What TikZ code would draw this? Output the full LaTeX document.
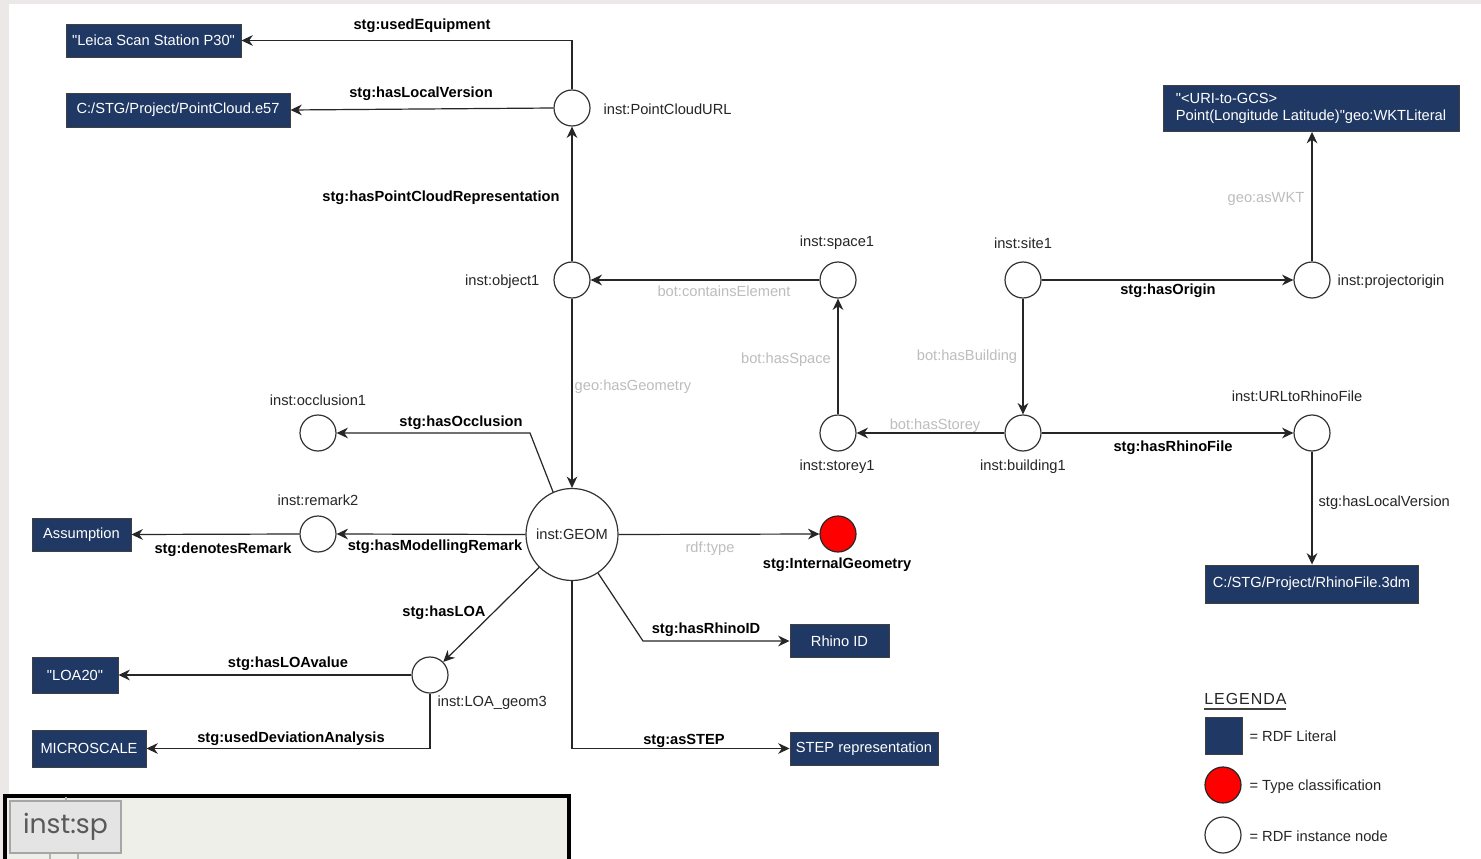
\documentclass[tikz,border=0pt]{standalone}
\usepackage{fontspec}
\setmainfont{Liberation Sans}[Ligatures=TeXOff]
\newfontfamily\geofont{Poppins}
\usetikzlibrary{arrows.meta}
\definecolor{navy}{RGB}{32,56,100}
\definecolor{lgray}{RGB}{189,189,189}
\definecolor{bggray}{RGB}{237,232,232}
\definecolor{artfill}{RGB}{239,239,234}
\definecolor{artbox}{RGB}{228,228,228}
\newcommand\fnt{\fontsize{11}{13}\selectfont}
\newcommand\dq{\symbol{34}}
\tikzset{
  inst/.style={circle, draw=black!80, fill=white, minimum size=27pt, inner sep=0pt, line width=0.9pt},
  typ/.style={circle, draw=black!85, fill=red, minimum size=27pt, inner sep=0pt, line width=0.9pt},
  lit/.style={rectangle, fill=navy, draw=black!75, text=white, font=\fnt, inner sep=0pt, line width=0.7pt},
  arr/.style={draw=black!85, line width=0.9pt, -{Stealth[length=8.5pt,width=8pt,inset=2.7pt]}},
  nl/.style={font=\fnt, text=black!85, inner sep=1pt, yshift=-1.2pt},
  bl/.style={font=\fnt\bfseries, text=black, inner sep=1pt, yshift=-1.4pt},
  gl/.style={font=\fnt, text=lgray, inner sep=1pt, yshift=-1.2pt},
}
\begin{document}
\begin{tikzpicture}[x=0.75pt, y=-0.75pt]
\useasboundingbox (0,0) rectangle (1481,859);
\fill[bggray] (0,0) rectangle (1481,859);
\fill[white] (9,4) rectangle (1481,859);

% literal boxes
\node[lit, minimum width=175*0.75pt, minimum height=33*0.75pt] (leica) at (153.5,40.5) {\dq Leica Scan Station P30\dq};
\node[lit, minimum width=224*0.75pt, minimum height=34*0.75pt] (e57) at (178,110) {C:/STG/Project/PointCloud.e57};
\node[lit, minimum width=296*0.75pt, minimum height=46*0.75pt, align=left] (wkt) at (1311,108.5) {\dq<URI-to-GCS>\\Point(Longitude Latitude)\dq geo:WKTLiteral};
\node[lit, minimum width=213*0.75pt, minimum height=38*0.75pt] (r3dm) at (1311.5,584) {C:/STG/Project/RhinoFile.3dm};
\node[lit, minimum width=99*0.75pt, minimum height=33*0.75pt] (assum) at (81.5,534.5) {Assumption};
\node[lit, minimum width=86*0.75pt, minimum height=36*0.75pt] (loa20) at (75,675) {\dq LOA20\dq};
\node[lit, minimum width=114*0.75pt, minimum height=37*0.75pt] (micro) at (89,748.5) {MICROSCALE};
\node[lit, minimum width=99*0.75pt, minimum height=33*0.75pt] (rhino) at (839.5,641) {Rhino ID};
\node[lit, minimum width=148*0.75pt, minimum height=33*0.75pt] (step) at (864,748.5) {STEP representation};

% instance nodes
\node[inst] (pcu) at (572,108) {};
\node[inst] (obj) at (572,280) {};
\node[inst] (space) at (838,280) {};
\node[inst] (site) at (1023,280) {};
\node[inst] (porig) at (1312,280) {};
\node[inst] (storey) at (838,433) {};
\node[inst] (bld) at (1023,433) {};
\node[inst] (url) at (1312,433) {};
\node[inst] (occ) at (318,433) {};
\node[inst] (rem) at (318,534) {};
\node[inst] (loa) at (430,675) {};
\node[inst, minimum size=69pt, font=\fnt, text=black!85] (geom) at (572,534.5) {inst:GEOM};
\node[typ] (ig) at (838,534) {};

% bend coordinates
\coordinate (c1) at (530,433);
\coordinate (c2) at (643,641);

% connectors
\draw[arr] (pcu.north) |- (leica.east);
\draw[arr] (pcu.west) -- (e57.east);
\draw[arr] (obj.north) -- (pcu.south);
\draw[arr] (space.west) -- (obj.east);
\draw[arr] (site.east) -- (porig.west);
\draw[arr] (porig.north) -- (wkt.south -| porig.north);
\draw[arr] (storey.north) -- (space.south);
\draw[arr] (site.south) -- (bld.north);
\draw[arr] (bld.west) -- (storey.east);
\draw[arr] (bld.east) -- (url.west);
\draw[arr] (url.south) -- (r3dm.north -| url.south);
\draw[arr] (obj.south) -- (geom.north);
\draw[arr] (geom.114) -- (c1) -- (occ.east);
\draw[arr] (geom.west) -- (rem.east);
\draw[arr] (rem.west) -- (assum.east);
\draw[arr] (geom.east) -- (ig.west);
\draw[arr] (geom.225) -- (loa);
\draw[arr] (loa.west) -- (loa20.east);
\draw[arr] (loa.south) |- (micro.east);
\draw[arr] (geom.-56) -- (c2) -- (rhino.west);
\draw[arr] (geom.south) |- (step.west);

% labels
\node[bl] (lUE) at (422,24) {stg:usedEquipment};
\node[bl] (lLV1) at (421,92) {stg:hasLocalVersion};
\node[bl] (lPCR) at (441,196) {stg:hasPointCloudRepresentation};
\node[nl, anchor=west] (tPCU) at (602,108) {inst:PointCloudURL};
\node[nl, anchor=east] (tObj) at (541,280) {inst:object1};
\node[gl] (lCE) at (724,290) {bot:containsElement};
\node[nl] (tSp) at (837,241) {inst:space1};
\node[nl] (tSite) at (1023,242) {inst:site1};
\node[bl] (lOr) at (1168,289) {stg:hasOrigin};
\node[nl, anchor=west] (tPO) at (1336,280) {inst:projectorigin};
\node[gl] (lWKT) at (1266,197) {geo:asWKT};
\node[gl] (lHS) at (786,358) {bot:hasSpace};
\node[gl] (lHB) at (967,355) {bot:hasBuilding};
\node[gl] (lHSt) at (935,424) {bot:hasStorey};
\node[nl] (tSt) at (837,465) {inst:storey1};
\node[nl] (tB) at (1023,465) {inst:building1};
\node[nl] (tURL) at (1297,395) {inst:URLtoRhinoFile};
\node[bl] (lRF) at (1173,446) {stg:hasRhinoFile};
\node[nl, anchor=west] (lLV2) at (1317,501) {stg:hasLocalVersion};
\node[gl] (lHG) at (633,385) {geo:hasGeometry};
\node[nl] (tOcc) at (318,399) {inst:occlusion1};
\node[bl] (lOcc) at (461,421) {stg:hasOcclusion};
\node[nl] (tRem) at (318,499) {inst:remark2};
\node[bl] (lMR) at (435,545) {stg:hasModellingRemark};
\node[bl] (lDR) at (223,548) {stg:denotesRemark};
\node[gl] (lRT) at (710,547) {rdf:type};
\node[bl] (tIG) at (837,563) {stg:InternalGeometry};
\node[bl] (lLOA) at (444,611) {stg:hasLOA};
\node[bl] (lLVal) at (288,662) {stg:hasLOAvalue};
\node[nl, anchor=west] (tLOA) at (436,701) {inst:LOA\_geom3};
\node[bl] (lUDA) at (291,737) {stg:usedDeviationAnalysis};
\node[bl] (lRID) at (706,628) {stg:hasRhinoID};
\node[bl] (lSTEP) at (684,739) {stg:asSTEP};

% legend
\node[font=\fontsize{12}{14}\selectfont\addfontfeature{LetterSpace=6}, text=black!85, anchor=west, inner sep=0pt] (leg) at (1204,699) {LEGENDA};
\draw[black!75, line width=0.8pt] (1204,709) -- (1286,709);
\node[lit, minimum width=37*0.75pt, minimum height=37*0.75pt] (legLit) at (1223.5,735.5) {};
\node[nl, anchor=west] (legLitT) at (1248,735) {= RDF Literal};
\node[typ] (legTyp) at (1223,785) {};
\node[nl, anchor=west] (legTypT) at (1248,785) {= Type classification};
\node[inst] (legInst) at (1223,835) {};
\node[nl, anchor=west] (legInstT) at (1248,835) {= RDF instance node};

% overlapping screenshot fragment at bottom left
\draw[black, line width=2.4pt, fill=artfill] (5,796) rectangle (569,866);
\draw[gray!60, line width=0.8pt] (66,797) -- (66,801);
\draw[gray!60, line width=0.8pt] (50,853) -- (50,859);
\draw[gray!60, line width=0.8pt] (78,853) -- (78,859);
\node[rectangle, draw=gray!70, fill=artbox, line width=1pt, minimum width=111*0.75pt, minimum height=52*0.75pt, font=\geofont\fontsize{20}{22}\selectfont, text=black!65, inner sep=0pt] (frag) at (65.5,827) {inst:sp};
\end{tikzpicture}
\end{document}
